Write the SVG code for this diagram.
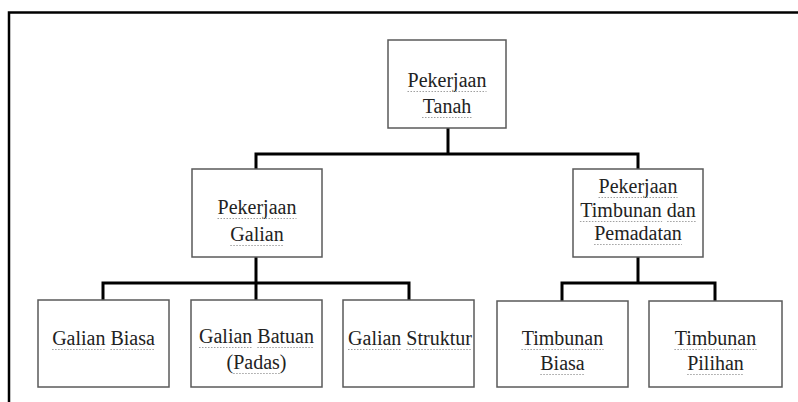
<svg xmlns="http://www.w3.org/2000/svg" width="798" height="402" viewBox="0 0 798 402">
<style>
.box{fill:#fff;stroke:#5a5a5a;stroke-width:1.5}
.lbl{font-family:"Liberation Serif","Times New Roman",serif;font-size:20px;fill:#222;text-anchor:middle}
.con{fill:none;stroke:#000;stroke-width:3;stroke-linejoin:miter}
.frame{fill:none;stroke:#000;stroke-width:2.5}
.sq{fill:none;stroke:#a0a0a0;stroke-width:1.2;stroke-dasharray:1.5 1.5}
</style>
<rect width="798" height="402" fill="#fff"/>
<path class="frame" d="M9,402 V12.5 H798"/>
<g id="connectors">
<path class="con" d="M448,128 V154"/>
<path class="con" d="M256,169 V154 H638 V169"/>
<path class="con" d="M256,257 V283"/>
<path class="con" d="M103,300 V283 H409 V300"/>
<path class="con" d="M256,283 V300"/>
<path class="con" d="M638,257 V283"/>
<path class="con" d="M562,301 V283 H715 V301"/>
</g>
<g id="pekerjaan-tanah">
<rect class="box" x="388" y="40" width="118" height="88"/>
<text class="lbl" x="447" y="87">Pekerjaan</text>
<text class="lbl" x="447" y="113">Tanah</text>
<path class="sq" d="M407.5,91.5 H486.5 M422,117.5 H472"/>
</g>
<g id="pekerjaan-galian">
<rect class="box" x="192" y="169" width="130" height="88"/>
<text class="lbl" x="257" y="214">Pekerjaan</text>
<text class="lbl" x="257" y="241">Galian</text>
<path class="sq" d="M217.5,218.5 H296.5 M230.3,245.5 H283.7"/>
</g>
<g id="pekerjaan-timbunan">
<rect class="box" x="573" y="169" width="130" height="88"/>
<text class="lbl" x="638" y="193">Pekerjaan</text>
<text class="lbl" x="638" y="217">Timbunan dan</text>
<text class="lbl" x="638" y="240">Pemadatan</text>
<path class="sq" d="M598.5,197.5 H677.5 M579.9,221.5 H662.1 M667.1,221.5 H696 M594.1,244.5 H681.9"/>
</g>
<g id="galian-biasa">
<rect class="box" x="38" y="300" width="131" height="87"/>
<text class="lbl" x="103.5" y="345">Galian Biasa</text>
<path class="sq" d="M52.1,349.5 H105.4 M110.4,349.5 H154.9"/>
</g>
<g id="galian-batuan">
<rect class="box" x="191" y="300" width="131" height="87"/>
<text class="lbl" x="256.5" y="343">Galian Batuan</text>
<text class="lbl" x="256.5" y="369">(Padas)</text>
<path class="sq" d="M199,347.5 H252.3 M257.3,347.5 H314 M233.2,373.5 H279.8"/>
</g>
<g id="galian-struktur">
<rect class="box" x="343" y="300" width="131" height="87"/>
<text class="lbl" x="410" y="345">Galian Struktur</text>
<path class="sq" d="M348,349.5 H401.3 M406.3,349.5 H471.9"/>
</g>
<g id="timbunan-biasa">
<rect class="box" x="497" y="301" width="131" height="86"/>
<text class="lbl" x="562.5" y="345">Timbunan</text>
<text class="lbl" x="562.5" y="370">Biasa</text>
<path class="sq" d="M521.4,349.5 H603.6 M540.3,374.5 H584.7"/>
</g>
<g id="timbunan-pilihan">
<rect class="box" x="649" y="301" width="133" height="86"/>
<text class="lbl" x="715.5" y="345">Timbunan</text>
<text class="lbl" x="715.5" y="370">Pilihan</text>
<path class="sq" d="M674.4,349.5 H756.6 M687.2,374.5 H743.8"/>
</g>
</svg>
